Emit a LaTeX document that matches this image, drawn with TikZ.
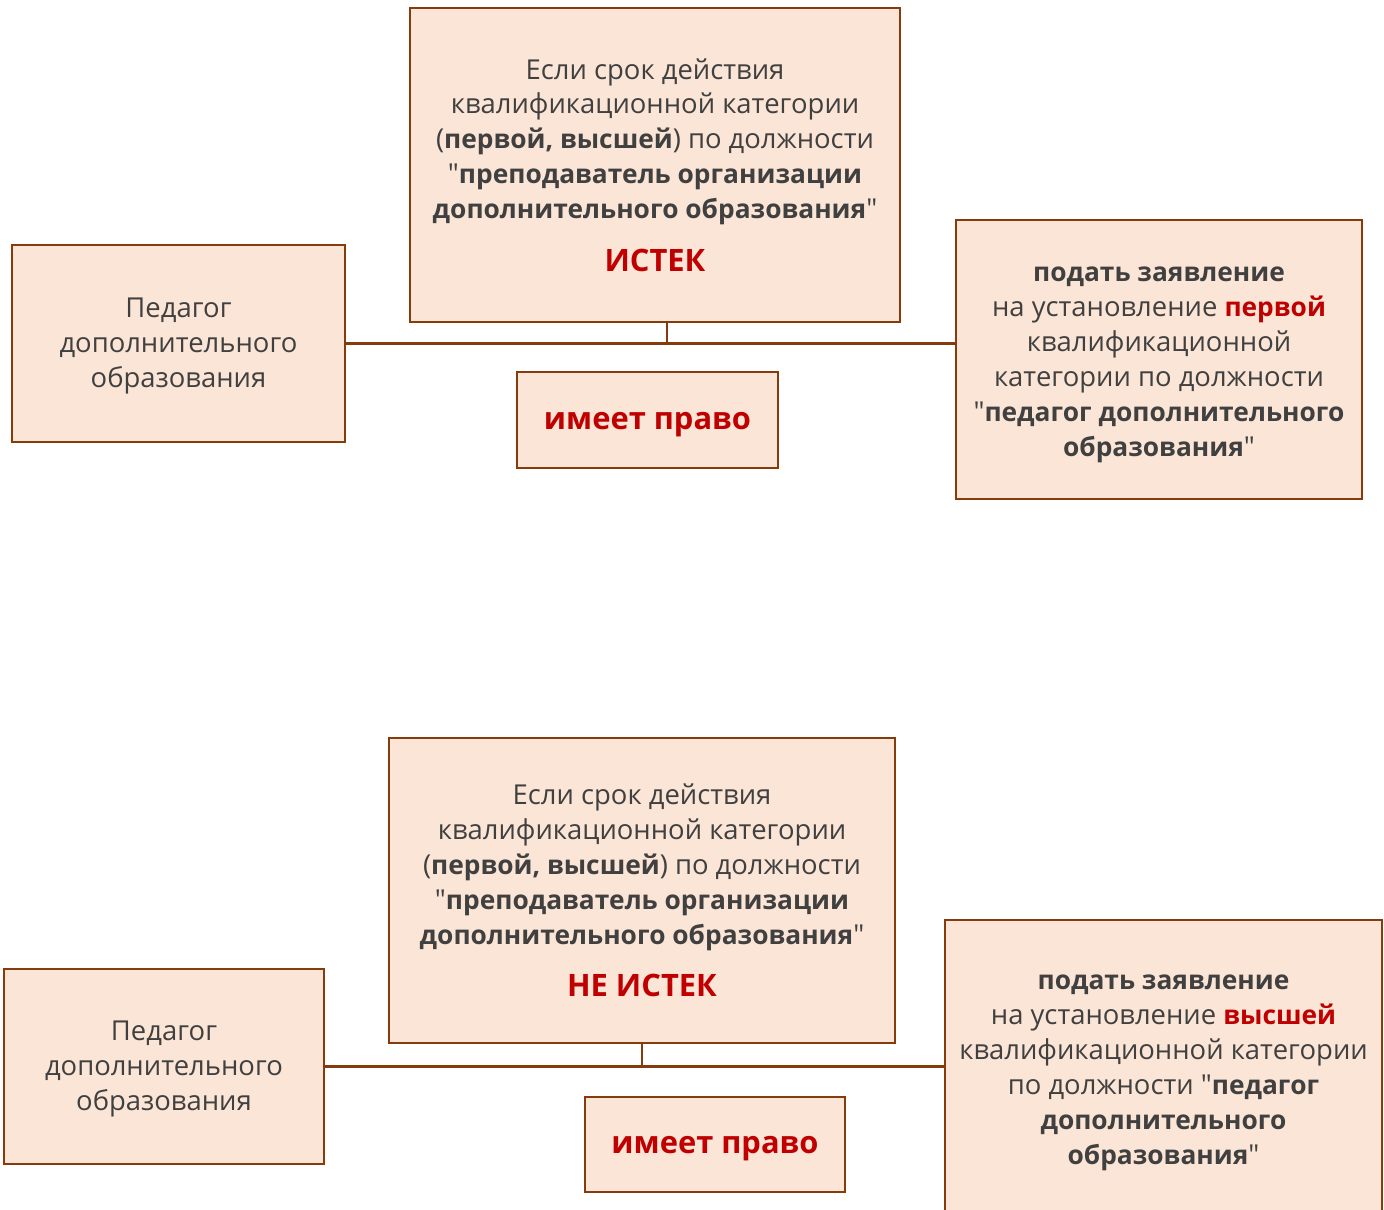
\documentclass[tikz,border=0pt]{standalone}
\usepackage{fontspec}
\setmainfont{Open Sans}[Ligatures=TeXOff, BoldFeatures={Scale=0.96}]
\definecolor{boxfill}{HTML}{FBE5D6}
\definecolor{boxline}{HTML}{843C0C}
\definecolor{txt}{HTML}{404040}
\definecolor{hot}{HTML}{C00000}
\newcommand{\hot}[1]{\textcolor{hot}{\textbf{#1}}}
\newcommand{\up}{\rule{0pt}{14.5pt}}
\tikzset{
  card/.style={draw=boxline, fill=boxfill, line width=1.3pt, text=txt,
    align=center, inner sep=0pt, font=\fontsize{15.6}{19.9}\selectfont},
  link/.style={draw=boxline, line width=1.4pt},
  big/.style={font=\fontsize{18.3}{22}\selectfont\bfseries},
}
\begin{document}
\begin{tikzpicture}
  \useasboundingbox (0,0) rectangle (27.68,-24.18);
  \clip (0,0) rectangle (27.68,-24.18);
  % upper part
  \node[card, minimum width=6.66cm, minimum height=3.94cm] (l1) at (3.57,-6.87)
    {\up Педагог\\дополнительного\\образования};
  \node[card, minimum width=9.8cm, minimum height=6.28cm] (t1) at (13.1,-3.3)
    {Если срок действия\\квалификационной категории\\(\textbf{первой, высшей}) по должности\\"\textbf{преподаватель организации}\\\textbf{дополнительного образования}"\\[10pt]
     {\fontsize{18.3}{22}\selectfont\hot{ИСТЕК}}};
  \node[card, minimum width=8.12cm, minimum height=5.58cm] (r1) at (23.18,-7.19)
    {\up\textbf{подать заявление}\\на установление \hot{первой}\\квалификационной\\категории по должности\\"\textbf{педагог дополнительного}\\\textbf{образования}"};
  \node[card, big, minimum width=5.22cm, minimum height=1.92cm] (m1) at (12.95,-8.4)
    {\up\textcolor{hot}{имеет право}};
  \coordinate (j1) at ([xshift=0.24cm]t1.south);
  \draw[link] (l1.east) -- (l1.east -| r1.west);
  \draw[link] (j1) -- (j1 |- l1.east);
  % lower part
  \node[card, minimum width=6.4cm, minimum height=3.9cm] (l2) at (3.28,-21.33)
    {\up Педагог\\дополнительного\\образования};
  \node[card, minimum width=10.12cm, minimum height=6.1cm] (t2) at (12.84,-17.81)
    {Если срок действия\\квалификационной категории\\(\textbf{первой, высшей}) по должности\\"\textbf{преподаватель организации}\\\textbf{дополнительного образования}"\\[10pt]
     {\fontsize{18.3}{22}\selectfont\hot{НЕ ИСТЕК}}};
  \node[card, minimum width=8.74cm, minimum height=5.88cm] (r2) at (23.27,-21.34)
    {\up\textbf{подать заявление}\\на установление \hot{высшей}\\квалификационной категории\\по должности "\textbf{педагог}\\\textbf{дополнительного}\\\textbf{образования}"};
  \node[card, big, minimum width=5.2cm, minimum height=1.9cm] (m2) at (14.3,-22.89)
    {\up\textcolor{hot}{имеет право}};
  \draw[link] (l2.east) -- (l2.east -| r2.west);
  \draw[link] (t2.south) -- (t2.south |- l2.east);
\end{tikzpicture}
\end{document}
